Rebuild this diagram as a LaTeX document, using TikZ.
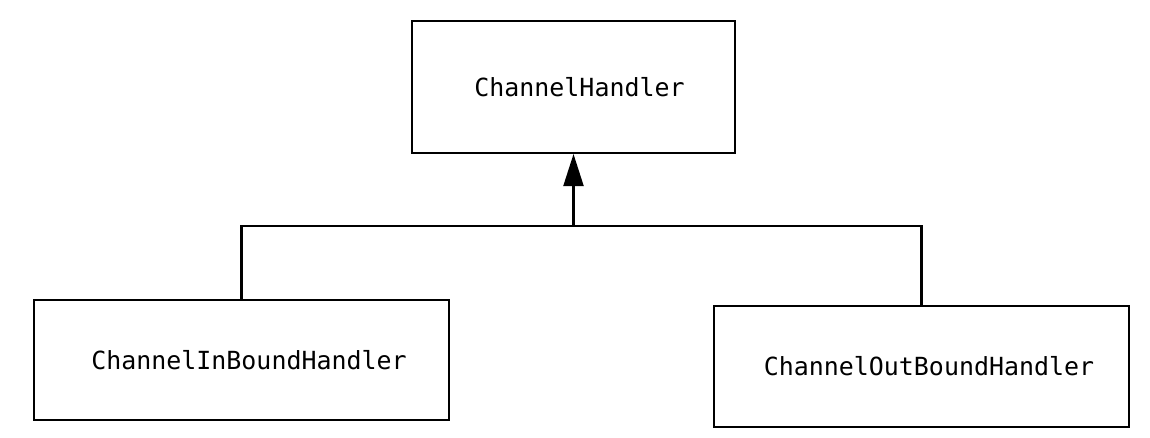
\documentclass[tikz,border=0pt]{standalone}
\usepackage{fontspec}
\setmonofont{DejaVu Sans Mono}
\usepackage{tikz}
\usetikzlibrary{calc}
\usetikzlibrary{arrows.meta}
\tikzstyle{every node}=[font=\ttfamily\fontsize{14.2pt}{17pt}\selectfont]
\tikzstyle{classbox}=[draw, line width=1.2pt, inner sep=0pt]

\begin{document}
\begin{tikzpicture}[x=0.02cm, y=-0.02cm, line width=1.2pt]
            \useasboundingbox (0, 0) rectangle (1150, 438);

            \node[classbox, minimum width=6.46cm, minimum height=2.64cm] (handler) at (573.5, 87) {\hspace{0.24cm}\raisebox{-0.06cm}{ChannelHandler}};
            \node[classbox, minimum width=8.3cm, minimum height=2.4cm] (inbound) at (241.5, 360) {\hspace{0.3cm}\raisebox{-0.04cm}{ChannelInBoundHandler}};
            \node[classbox, minimum width=8.3cm, minimum height=2.42cm] (outbound) at (921.5, 366.5) {\hspace{0.3cm}\raisebox{-0.02cm}{ChannelOutBoundHandler}};

            \coordinate (fork) at (573.5, 226);

            \draw (inbound.north) |- (fork) -| (outbound.north);
            \draw [-{Triangle[length=0.64cm, width=0.4cm]}] (fork) -- (handler.south);
        \end{tikzpicture}
\end{document}
